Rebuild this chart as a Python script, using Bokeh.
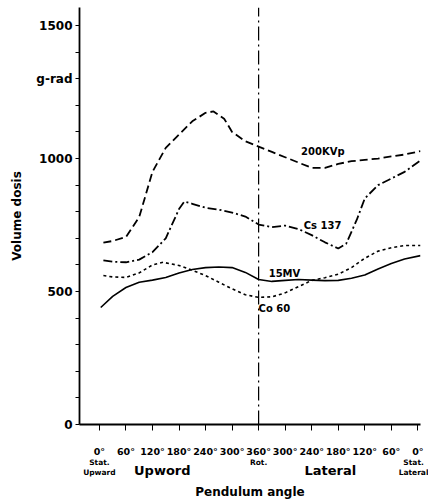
from bokeh.plotting import figure
from bokeh.models import FixedTicker, Label, Range1d, LinearAxis
from bokeh.embed import file_html
from bokeh.resources import INLINE

# Tick positions along the pendulum path (index positions) and their labels
tick_pos = list(range(13))
tick_labels = ["0°", "60°", "120°", "180°", "240°", "300°", "360°",
               "300°", "240°", "180°", "120°", "60°", "0°"]
sub_pos = [0, 6, 11.95]
sub_labels = ["Stat.\nUpward", "Rot.", "Stat.\nLateral"]
group_pos = [2.37, 8.7]
group_labels = ["Upword", "Lateral"]

# 200KVp (dashed)
x_kvp = [0.15, 0.5, 1.0, 1.5, 2.0, 2.5, 3.0, 3.5, 4.0, 4.3, 4.7, 5.0, 5.5, 6.0,
         6.5, 7.0, 7.5, 8.0, 8.5, 9.0, 9.5, 10.0, 10.5, 11.0, 11.5, 12.1]
y_kvp = [684, 690, 705, 780, 950, 1040, 1090, 1140, 1172, 1177, 1150, 1100, 1065, 1045,
         1025, 1005, 985, 965, 965, 980, 990, 995, 1000, 1008, 1015, 1028]

# Cs 137 (dash-dot)
x_cs = [0.15, 0.5, 1.0, 1.5, 2.0, 2.5, 3.0, 3.2, 3.5, 4.0, 4.5, 5.0, 5.5, 6.0,
        6.5, 7.0, 7.5, 8.0, 8.5, 9.0, 9.3, 9.7, 10.0, 10.5, 11.0, 11.5, 12.1]
y_cs = [617, 612, 610, 620, 648, 700, 810, 838, 830, 815, 808, 797, 782, 752,
        742, 748, 735, 712, 685, 662, 680, 770, 850, 900, 925, 950, 993]

# Co 60 (short dashes)
x_co = [0.15, 0.5, 1.0, 1.5, 2.0, 2.4, 3.0, 3.5, 4.0, 4.5, 5.0, 5.5, 6.0,
        6.5, 7.0, 7.5, 8.0, 8.5, 9.0, 9.5, 10.0, 10.5, 11.0, 11.5, 12.1]
y_co = [560, 555, 553, 570, 600, 610, 598, 580, 560, 535, 510, 488, 478,
        480, 495, 518, 542, 552, 565, 590, 625, 652, 665, 673, 673]

# 15MV (solid)
x_mv = [0.05, 0.5, 1.0, 1.5, 2.0, 2.5, 3.0, 3.5, 4.0, 4.5, 5.0, 5.5, 6.0,
        6.5, 7.0, 7.5, 8.0, 8.5, 9.0, 9.5, 10.0, 10.5, 11.0, 11.5, 12.1]
y_mv = [440, 482, 515, 535, 543, 553, 570, 583, 590, 592, 590, 572, 545,
        538, 542, 545, 543, 541, 542, 550, 562, 585, 605, 622, 635]

y_ticks = list(range(0, 1600, 100))
y_tick_text = {0: "0", 500: "500", 1000: "1000", 1300: "g-rad", 1500: "1500"}

FONT = "DejaVu Sans"

p = figure(width=428, height=503, output_backend="svg", toolbar_location=None,
           x_range=Range1d(-0.75, 12.1), y_range=Range1d(0, 1568),
           min_border_left=79, min_border_right=8, min_border_top=7, min_border_bottom=79)
p.outline_line_color = None
p.xgrid.visible = False
p.ygrid.visible = False
p.background_fill_color = "white"
p.border_fill_color = "white"

# y axis
p.yaxis.ticker = FixedTicker(ticks=y_ticks)
p.yaxis.major_label_overrides = {t: y_tick_text.get(t, "") for t in y_ticks}
p.yaxis.major_tick_out = 4
p.yaxis.major_tick_in = 0
p.yaxis.minor_tick_line_color = None
p.yaxis.major_label_standoff = 3
p.yaxis.major_label_text_font = FONT
p.yaxis.major_label_text_font_style = "bold"
p.yaxis.major_label_text_font_size = "12px"
p.yaxis.major_label_text_color = "black"
p.yaxis.axis_line_width = 1.8
p.yaxis.axis_label = "Volume dosis"
p.yaxis.axis_label_text_font = FONT
p.yaxis.axis_label_text_font_style = "bold"
p.yaxis.axis_label_text_font_size = "12px"
p.yaxis.axis_label_text_color = "black"
p.yaxis.axis_label_standoff = 9

# x axis: degree labels
p.xaxis.ticker = FixedTicker(ticks=tick_pos)
p.xaxis.major_label_overrides = {t: l for t, l in zip(tick_pos, tick_labels)}
p.xaxis.major_tick_out = 6
p.xaxis.major_tick_in = 0
p.xaxis.minor_tick_line_color = None
p.xaxis.major_label_standoff = 15
p.xaxis.major_label_text_font = FONT
p.xaxis.major_label_text_font_style = "bold"
p.xaxis.major_label_text_font_size = "9.5px"
p.xaxis.major_label_text_color = "black"
p.xaxis.axis_line_width = 1.8

# second x axis: small sub labels
ax_b = LinearAxis(ticker=FixedTicker(ticks=sub_pos),
                  major_label_overrides={t: l for t, l in zip(sub_pos, sub_labels)},
                  axis_line_color=None, major_tick_line_color=None,
                  minor_tick_line_color=None, major_tick_out=0, major_tick_in=0,
                  major_label_standoff=-2, major_label_text_font=FONT,
                  major_label_text_font_style="bold", major_label_text_font_size="7.5px",
                  major_label_text_color="black")
p.add_layout(ax_b, "below")

# third x axis: group labels + axis title
ax_c = LinearAxis(ticker=FixedTicker(ticks=group_pos),
                  major_label_overrides={t: l for t, l in zip(group_pos, group_labels)},
                  axis_line_color=None, major_tick_line_color=None,
                  minor_tick_line_color=None, major_tick_out=0, major_tick_in=0,
                  major_label_standoff=-18, major_label_text_font=FONT,
                  major_label_text_font_style="bold", major_label_text_font_size="13px",
                  major_label_text_color="black",
                  axis_label="Pendulum angle", axis_label_standoff=4,
                  axis_label_text_font=FONT, axis_label_text_font_style="bold",
                  axis_label_text_font_size="12px", axis_label_text_color="black")
p.add_layout(ax_c, "below")

# vertical rotation marker
p.line([6, 6], [0, 1568], line_color="black", line_width=1.2, line_dash="14 4 2 4")

# curves
p.line(x_kvp, y_kvp, line_color="black", line_width=1.8, line_dash="8 4")
p.line(x_cs, y_cs, line_color="black", line_width=1.8, line_dash="9 3 2 3")
p.line(x_co, y_co, line_color="black", line_width=1.6, line_dash="3 3")
p.line(x_mv, y_mv, line_color="black", line_width=1.6)

def lab(x, y, text, size="10px"):
    p.add_layout(Label(x=x, y=y, text=text, text_font=FONT, text_font_size=size,
                       text_font_style="bold", text_align="left", text_baseline="middle",
                       text_color="black"))

# curve labels
lab(7.6, 1026, "200KVp")
lab(7.7, 748, "Cs 137")
lab(6.38, 568, "15MV")
lab(6.0, 436, "Co 60")

open("out.html", "w").write(file_html(p, INLINE))
